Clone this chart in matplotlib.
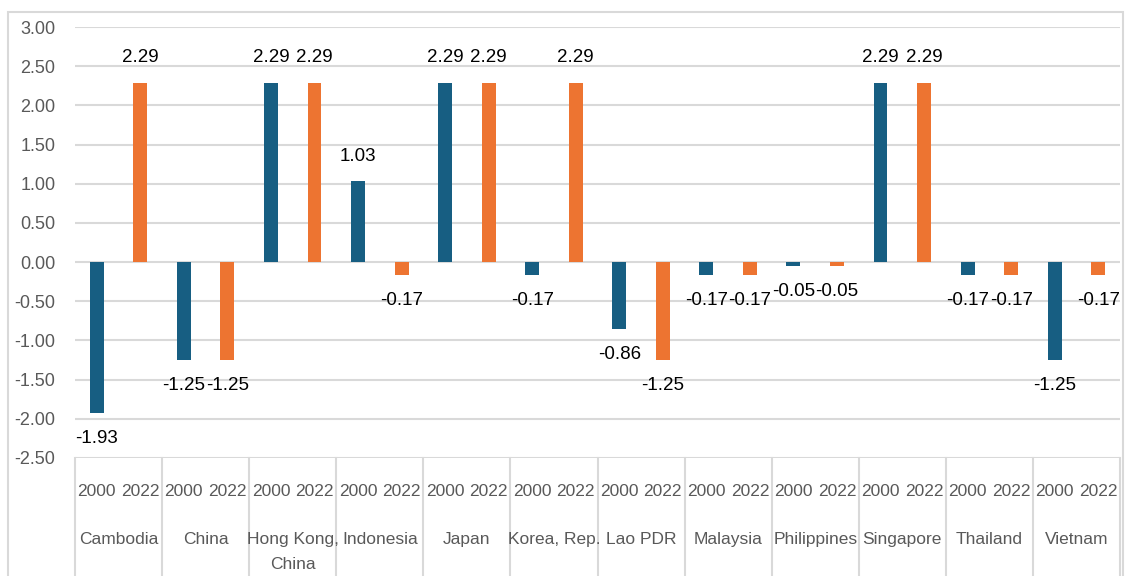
import matplotlib.pyplot as plt
from matplotlib.patches import Rectangle
from matplotlib.lines import Line2D
import numpy as np

countries = ["Cambodia", "China", "Hong Kong,\nChina", "Indonesia", "Japan", "Korea, Rep.",
             "Lao PDR", "Malaysia", "Philippines", "Singapore", "Thailand", "Vietnam"]
years = ["2000", "2022"]
v2000 = [-1.93, -1.25, 2.29, 1.03, 2.29, -0.17, -0.86, -0.17, -0.05, 2.29, -0.17, -1.25]
v2022 = [2.29, -1.25, 2.29, -0.17, 2.29, 2.29, -1.25, -0.17, -0.05, 2.29, -0.17, -0.17]

blue = "#175e82"
orange = "#ed7431"
grey = "#595959"
font = ["Liberation Sans", "DejaVu Sans"]

W, H = 1131, 576
fig = plt.figure(figsize=(W / 100, H / 100), dpi=100)
left, right, top, bottom = 75, 1120, 27, 458
ax = fig.add_axes([left / W, 1 - bottom / H, (right - left) / W, (bottom - top) / H])

n = len(countries)
x = np.arange(n)
ax.bar(x + 0.25, v2000, width=0.16, color=blue, zorder=3)
ax.bar(x + 0.75, v2022, width=0.16, color=orange, zorder=3)

for xs, vals in [(x + 0.25, v2000), (x + 0.75, v2022)]:
    for xi, v in zip(xs, vals):
        off = 0.32 if v > 0 else -0.32
        ax.text(xi, v + off, f"{v:.2f}", ha="center", va="center", fontsize=13.5,
                family=font, color="black")

ax.set_xlim(0, n)
ax.set_ylim(-2.5, 3.0)
ax.set_yticks(np.arange(-2.5, 3.01, 0.5))
ax.set_yticklabels([f"{t:.2f}" for t in np.arange(-2.5, 3.01, 0.5)], family=font,
                   fontsize=13, color=grey)
ax.tick_params(axis="y", length=0, pad=14)
ax.set_xticks([])
ax.grid(axis="y", color="#d9d9d9", linewidth=1.5, zorder=0)
for s in ax.spines.values():
    s.set_visible(False)

# category axis below the plot
trans = ax.get_xaxis_transform()
for i in range(n + 1):
    ax.add_line(Line2D([i, i], [0, -0.35], transform=trans, color="#d9d9d9",
                       linewidth=1.5, clip_on=False))
for i, c in enumerate(countries):
    for j, yr in enumerate(years):
        ax.text(i + 0.25 + 0.5 * j, -0.077, yr, transform=trans, ha="center", va="center",
                fontsize=12.5, family=font, color=grey)
    ax.text(i + 0.5, -0.172, c, transform=trans, ha="center", va="top",
            fontsize=12.5, family=font, color=grey, linespacing=1.85)

# outer frame
fig.patches.append(Rectangle((8 / W, -0.1), (1123 - 8) / W, 1.1 - 12 / H,
                             transform=fig.transFigure, fill=False,
                             edgecolor="#d9d9d9", linewidth=1.5))

fig.savefig("out.png", dpi=100)
